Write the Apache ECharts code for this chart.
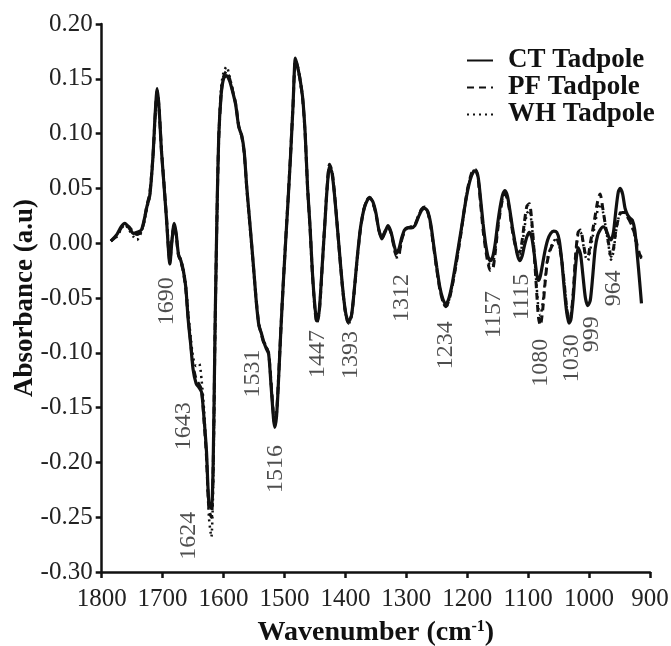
<!DOCTYPE html>
<html>
<head>
<meta charset="utf-8">
<script src="https://cdn.jsdelivr.net/npm/echarts@6/dist/echarts.min.js"></script>
<style>html,body{margin:0;padding:0;background:#fff;}#chart{width:671px;height:646px;}</style>
</head>
<body>
<div id="chart"></div>
<script>
// Wavenumbers (cm-1)
var wn = [
1785,1775,1768,1762,1755,1748,1742,1735,1730,1726,
1721,1716,1712,1709,1706,1702,1698,1694,1688,1685,
1681,1678,1674,1670,1666,1662,1658,1654,1650,1645,
1640,1636,1632,1628,1624,1620,1617,1614,1611,1608,
1604,1600,1595,1590,1585,1580,1575,1570,1566,1562,
1558,1554,1550,1546,1542,1538,1534,1530,1526,1522,
1518,1516,1513,1510,1506,1502,1498,1494,1490,1486,
1482,1478,1474,1470,1466,1462,1458,1454,1450,1447,
1443,1438,1434,1430,1426,1422,1418,1414,1410,1405,
1400,1395,1390,1385,1380,1375,1370,1365,1360,1355,
1350,1345,1340,1335,1330,1325,1320,1316,1312,1308,
1303,1298,1292,1286,1280,1275,1270,1265,1260,1255,
1250,1245,1240,1235,1230,1225,1220,1215,1210,1205,
1200,1195,1190,1186,1182,1178,1174,1170,1166,1162,
1158,1154,1150,1146,1142,1138,1134,1130,1126,1122,
1118,1114,1110,1106,1102,1098,1094,1090,1086,1083,
1080,1076,1072,1068,1063,1058,1053,1049,1045,1041,
1037,1033,1030,1026,1022,1018,1014,1010,1006,1002,
998,994,990,986,982,977,972,968,964,960,
956,952,949,945,941,937,933,929,925,921,
917,914];

var ctTadpole = [
0.002,0.008,0.015,0.018,0.014,0.009,0.010,0.012,0.022,0.033,
0.044,0.078,0.120,0.141,0.125,0.085,0.055,0.025,-0.019,0.000,
0.018,0.010,-0.010,-0.016,-0.025,-0.040,-0.070,-0.092,-0.115,-0.128,
-0.132,-0.136,-0.160,-0.190,-0.238,-0.242,-0.200,-0.080,0.020,0.095,
0.135,0.150,0.153,0.148,0.138,0.126,0.106,0.098,0.083,0.052,
0.026,0.000,-0.027,-0.055,-0.075,-0.082,-0.090,-0.096,-0.101,-0.130,
-0.160,-0.168,-0.158,-0.128,-0.080,-0.037,0.002,0.040,0.080,0.125,
0.169,0.160,0.148,0.132,0.100,0.050,0.015,-0.028,-0.058,-0.071,
-0.062,-0.020,0.015,0.050,0.070,0.064,0.045,0.020,-0.006,-0.038,
-0.062,-0.072,-0.066,-0.040,-0.010,0.015,0.030,0.038,0.041,0.038,
0.028,0.012,0.004,0.010,0.016,0.010,-0.002,-0.009,-0.005,0.004,
0.012,0.014,0.014,0.016,0.024,0.030,0.032,0.029,0.018,-0.002,
-0.022,-0.040,-0.051,-0.056,-0.050,-0.038,-0.022,-0.005,0.012,0.030,
0.046,0.058,0.065,0.066,0.060,0.040,0.018,0.000,-0.012,-0.016,
-0.012,0.000,0.018,0.033,0.044,0.048,0.043,0.030,0.015,0.002,
-0.010,-0.016,-0.012,-0.002,0.006,0.010,0.005,-0.010,-0.028,-0.034,
-0.030,-0.018,-0.006,0.003,0.009,0.011,0.010,0.003,-0.015,-0.040,
-0.062,-0.073,-0.070,-0.050,-0.020,-0.004,-0.010,-0.030,-0.050,-0.057,
-0.052,-0.030,-0.005,0.007,0.012,0.015,0.012,0.006,0.003,0.010,
0.030,0.047,0.050,0.045,0.032,0.026,0.023,0.021,0.012,-0.010,
-0.035,-0.055];

var pfTadpole = [
0.002,0.007,0.014,0.017,0.015,0.010,0.008,0.011,0.021,0.034,
0.046,0.078,0.118,0.139,0.124,0.086,0.056,0.026,-0.017,0.002,
0.016,0.008,-0.011,-0.017,-0.026,-0.042,-0.068,-0.090,-0.112,-0.124,
-0.129,-0.134,-0.162,-0.195,-0.243,-0.250,-0.205,-0.082,0.018,0.094,
0.136,0.152,0.157,0.150,0.139,0.127,0.107,0.097,0.082,0.051,
0.025,-0.001,-0.028,-0.054,-0.074,-0.083,-0.091,-0.095,-0.100,-0.127,
-0.157,-0.165,-0.155,-0.126,-0.080,-0.037,0.003,0.041,0.081,0.125,
0.167,0.160,0.148,0.131,0.099,0.050,0.014,-0.029,-0.060,-0.073,
-0.064,-0.021,0.016,0.051,0.072,0.066,0.046,0.020,-0.007,-0.039,
-0.063,-0.073,-0.066,-0.041,-0.011,0.014,0.030,0.039,0.042,0.037,
0.027,0.012,0.005,0.011,0.015,0.009,-0.004,-0.012,-0.010,0.002,
0.011,0.014,0.015,0.017,0.025,0.031,0.033,0.029,0.016,-0.004,
-0.024,-0.042,-0.053,-0.058,-0.052,-0.040,-0.025,-0.008,0.010,0.030,
0.048,0.060,0.067,0.067,0.058,0.036,0.012,-0.005,-0.018,-0.025,
-0.024,-0.008,0.012,0.028,0.040,0.045,0.040,0.028,0.012,0.000,
-0.008,-0.008,0.002,0.020,0.034,0.036,0.020,-0.010,-0.045,-0.068,
-0.075,-0.060,-0.035,-0.015,-0.005,0.000,0.003,-0.002,-0.015,-0.035,
-0.058,-0.070,-0.068,-0.045,-0.010,0.010,0.012,0.002,-0.010,-0.012,
0.000,0.012,0.025,0.038,0.045,0.030,0.012,0.000,-0.012,-0.005,
0.012,0.022,0.027,0.028,0.028,0.024,0.020,0.015,0.008,-0.002,
-0.010,-0.013];

var whTadpole = [
0.002,0.006,0.013,0.017,0.012,0.006,0.003,0.010,0.020,0.031,
0.043,0.076,0.117,0.138,0.124,0.086,0.056,0.026,-0.016,0.003,
0.017,0.009,-0.009,-0.015,-0.024,-0.038,-0.064,-0.085,-0.104,-0.112,
-0.110,-0.125,-0.152,-0.195,-0.250,-0.268,-0.222,-0.090,0.015,0.097,
0.142,0.156,0.161,0.152,0.140,0.127,0.107,0.098,0.082,0.051,
0.025,-0.001,-0.028,-0.055,-0.074,-0.082,-0.089,-0.094,-0.100,-0.128,
-0.158,-0.166,-0.156,-0.127,-0.079,-0.036,0.002,0.040,0.080,0.124,
0.166,0.159,0.147,0.131,0.100,0.051,0.015,-0.028,-0.060,-0.073,
-0.063,-0.021,0.016,0.051,0.071,0.065,0.046,0.020,-0.006,-0.038,
-0.063,-0.074,-0.066,-0.041,-0.010,0.015,0.031,0.039,0.042,0.037,
0.027,0.012,0.005,0.011,0.015,0.009,-0.004,-0.013,-0.012,0.001,
0.011,0.014,0.015,0.017,0.025,0.031,0.033,0.029,0.016,-0.004,
-0.024,-0.042,-0.053,-0.059,-0.052,-0.040,-0.025,-0.008,0.010,0.029,
0.047,0.059,0.066,0.066,0.058,0.037,0.014,-0.003,-0.015,-0.021,
-0.020,-0.006,0.013,0.029,0.041,0.046,0.041,0.029,0.013,0.001,
-0.008,-0.010,-0.002,0.014,0.027,0.030,0.016,-0.010,-0.040,-0.060,
-0.066,-0.054,-0.032,-0.013,-0.004,0.002,0.004,-0.002,-0.016,-0.036,
-0.058,-0.069,-0.066,-0.044,-0.012,0.008,0.010,0.000,-0.012,-0.016,
-0.006,0.006,0.018,0.030,0.036,0.028,0.012,-0.002,-0.015,-0.008,
0.010,0.022,0.028,0.029,0.028,0.024,0.020,0.014,0.006,-0.004,
-0.011,-0.014];

// Peak annotations (label text, anchor wavenumber, anchor absorbance)
var peakLabels = ['1690','1643','1624','1531','1516','1447','1393','1312','1234','1157','1115','1080','1030','999','964'];
var peakWn     = [1694,1666,1657,1552,1514,1445,1391,1308,1235,1156,1111,1079,1028,995,960];
var peakY      = [-0.053,-0.167,-0.267,-0.119,-0.206,-0.101,-0.102,-0.050,-0.093,-0.065,-0.049,-0.109,-0.105,-0.083,-0.041];

var seriesNames = ['CT Tadpole','PF Tadpole','WH Tadpole'];

function pairs(vals){ return wn.map(function(w,i){ return [w, vals[i]]; }); }
var FONT = 'Liberation Serif';

var chart = echarts.init(document.getElementById('chart'), null, {renderer:'canvas'});
chart.setOption({
  animation:false,
  backgroundColor:'#fff',
  grid:{left:101.7, right:21, top:24, bottom:74, containLabel:false, outerBoundsMode:'none'},
  legend:{
    data:seriesNames, orient:'vertical', left:466, top:47, padding:0,
    itemWidth:26, itemHeight:20, itemGap:0,
    itemStyle:{opacity:0},
    textStyle:{fontFamily:FONT, fontWeight:'bold', fontSize:27, color:'#111', lineHeight:26, padding:[0,0,0,10]}
  },
  xAxis:{
    type:'value', inverse:true, min:900, max:1800, interval:100,
    name:'Wavenumber (cm{sup|-1})', nameLocation:'middle', nameGap:47,
    nameTextStyle:{fontFamily:FONT, fontWeight:'bold', fontSize:28, color:'#111',
      rich:{sup:{fontFamily:FONT, fontWeight:'bold', fontSize:16, color:'#111', verticalAlign:'top', lineHeight:18, padding:[0,0,12,0]}}},
    axisLine:{onZero:false, lineStyle:{color:'#111', width:2.5}},
    axisTick:{length:6, lineStyle:{color:'#111', width:2.5}},
    axisLabel:{fontFamily:FONT, fontSize:25, color:'#222', margin:15,
      formatter:function(v){ return String(v); }},
    splitLine:{show:false}
  },
  yAxis:{
    type:'value', min:-0.30, max:0.20, interval:0.05,
    name:'Absorbance (a.u)', nameLocation:'middle', nameGap:63, nameMoveOverlap:false,
    nameTextStyle:{fontFamily:FONT, fontWeight:'bold', fontSize:27, color:'#111'},
    axisLine:{show:true, onZero:false, lineStyle:{color:'#111', width:2.5}},
    axisTick:{show:true, length:6, lineStyle:{color:'#111', width:2.5}},
    axisLabel:{fontFamily:FONT, fontSize:25, color:'#222', margin:9,
      formatter:function(v){ return v.toFixed(2); }},
    splitLine:{show:false}
  },
  series:[
    {name:seriesNames[0], type:'line', data:pairs(ctTadpole), showSymbol:false, symbol:'none', smooth:0.25, z:3,
      lineStyle:{color:'#111', width:3.2, type:'solid'}, itemStyle:{color:'#111'}},
    {name:seriesNames[1], type:'line', data:pairs(pfTadpole), showSymbol:false, symbol:'none', smooth:0.25, z:2,
      lineStyle:{color:'#111', width:3, type:[7,5]}, itemStyle:{color:'#111'}},
    {name:seriesNames[2], type:'line', data:pairs(whTadpole), showSymbol:false, symbol:'none', smooth:0.25, z:2,
      lineStyle:{color:'#111', width:2.5, type:[2,4]}, itemStyle:{color:'#111'}},
    {name:'peaks', type:'scatter', symbol:'circle', symbolSize:0.5, itemStyle:{color:'rgba(0,0,0,0)'}, z:5,
      data:peakLabels.map(function(t,i){ return {name:t, value:[peakWn[i], peakY[i]]}; }),
      label:{show:true, position:'inside', rotate:90, formatter:'{b}', fontFamily:FONT, fontSize:24, color:'#222', align:'center', verticalAlign:'middle'}}
  ]
});
</script>
</body>
</html>
